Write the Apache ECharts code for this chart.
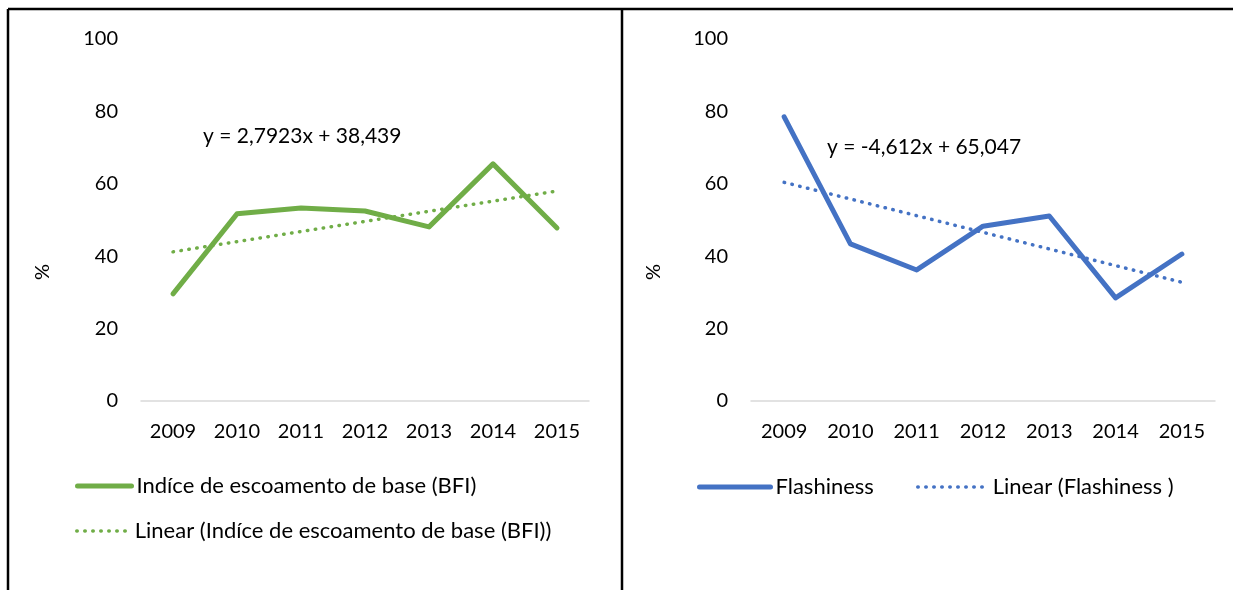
<!DOCTYPE html>
<html lang="pt">
<head>
    <meta charset="UTF-8">
    <title>BFI e Flashiness</title>
    <script src="https://cdn.jsdelivr.net/npm/echarts@6/dist/echarts.min.js"></script>
    <style>
        html, body { margin: 0; padding: 0; background: #fff; }
    </style>
</head>
<body>
<div id="main" style="width: 1233px;height:590px;"></div>
<script type="text/javascript">
    // dados
    var anos = ["2009", "2010", "2011", "2012", "2013", "2014", "2015"];
    var bfi = [29.6, 51.7, 53.3, 52.5, 48.1, 65.5, 47.8];
    var bfiLinear = [41.2, 44.0, 46.8, 49.6, 52.4, 55.2, 58.0];
    var flash = [78.5, 43.4, 36.2, 48.3, 51.1, 28.5, 40.6];
    var flashLinear = [60.4, 55.8, 51.2, 46.6, 42.0, 37.4, 32.8];
    var eqBfi = "y = 2,7923x + 38,439";
    var eqFlash = "y = -4,612x + 65,047";

    var fonte = "Lato, 'Open Sans', sans-serif";
    var verde = "#70AD47";
    var azul = "#4472C4";

    var myChart = echarts.init(document.getElementById("main"));

    function eixoY(idx) {
        return {
            type: "value",
            gridIndex: idx,
            min: 0,
            max: 100,
            interval: 20,
            axisLine: {show: false},
            axisTick: {show: false},
            splitLine: {show: false},
            axisLabel: {color: "#000", fontSize: 20, fontFamily: fonte, margin: 23}
        };
    }

    function eixoX(idx) {
        return {
            type: "category",
            gridIndex: idx,
            data: anos,
            boundaryGap: true,
            axisLine: {lineStyle: {color: "#d9d9d9", width: 1.5}},
            axisTick: {show: false},
            axisLabel: {color: "#000", fontSize: 20, fontFamily: fonte, margin: 21}
        };
    }

    var cheio = {width: 5, cap: "round"};
    var pontilhado = {width: 3.5, type: [0.5, 7.5], cap: "round"};

    // legenda: sem símbolo, só a linha
    function legenda(left, top, largura, nome, estilo) {
        return {
            left: left,
            top: top,
            itemWidth: largura,
            itemHeight: 14,
            itemStyle: {opacity: 0},
            lineStyle: estilo,
            textStyle: {color: "#000", fontSize: 22, fontFamily: fonte},
            data: [nome]
        };
    }

    var option = {
        animation: false,
        textStyle: {fontFamily: fonte},
        grid: [
            {left: 141, right: 644, top: 39, bottom: 189},
            {left: 751, right: 18, top: 39, bottom: 189}
        ],
        xAxis: [eixoX(0), eixoX(1)],
        yAxis: [eixoY(0), eixoY(1)],
        legend: [
            legenda(70, 470, 54, "Indíce de escoamento de base (BFI)", cheio),
            legenda(70, 515, 53, "Linear (Indíce de escoamento de base (BFI))", pontilhado),
            legenda(692, 471, 71, "Flashiness", cheio),
            legenda(911, 471, 70, "Linear (Flashiness )", pontilhado)
        ],
        series: [
            {
                name: "Indíce de escoamento de base (BFI)",
                type: "line",
                xAxisIndex: 0,
                yAxisIndex: 0,
                data: bfi,
                symbol: "none",
                lineStyle: {color: verde, width: 5, cap: "round", join: "round"},
                itemStyle: {color: verde}
            },
            {
                name: "Linear (Indíce de escoamento de base (BFI))",
                type: "line",
                xAxisIndex: 0,
                yAxisIndex: 0,
                data: bfiLinear,
                symbol: "none",
                lineStyle: Object.assign({color: verde}, pontilhado),
                itemStyle: {color: verde}
            },
            {
                name: "Flashiness",
                type: "line",
                xAxisIndex: 1,
                yAxisIndex: 1,
                data: flash,
                symbol: "none",
                lineStyle: {color: azul, width: 5, cap: "round", join: "round"},
                itemStyle: {color: azul}
            },
            {
                name: "Linear (Flashiness )",
                type: "line",
                xAxisIndex: 1,
                yAxisIndex: 1,
                data: flashLinear,
                symbol: "none",
                lineStyle: Object.assign({color: azul}, pontilhado),
                itemStyle: {color: azul}
            }
        ],
        graphic: [
            {type: "line", shape: {x1: 8, y1: 9, x2: 1233, y2: 9}, style: {stroke: "#000", lineWidth: 2.5}},
            {type: "line", shape: {x1: 8, y1: 9, x2: 8, y2: 590}, style: {stroke: "#000", lineWidth: 2.5}},
            {type: "line", shape: {x1: 622, y1: 9, x2: 622, y2: 590}, style: {stroke: "#000", lineWidth: 2.5}},
            {type: "text", left: 203, top: 126, style: {text: eqBfi, fill: "#000", font: "21px " + fonte}},
            {type: "text", left: 827, top: 137, style: {text: eqFlash, fill: "#000", font: "21px " + fonte}},
            {type: "text", x: 43, y: 272, rotation: Math.PI / 2,
                style: {text: "%", fill: "#000", font: "20px " + fonte, align: "center", verticalAlign: "middle"}},
            {type: "text", x: 654, y: 272, rotation: Math.PI / 2,
                style: {text: "%", fill: "#000", font: "20px " + fonte, align: "center", verticalAlign: "middle"}}
        ]
    };

    myChart.setOption(option);
</script>
</body>
</html>
